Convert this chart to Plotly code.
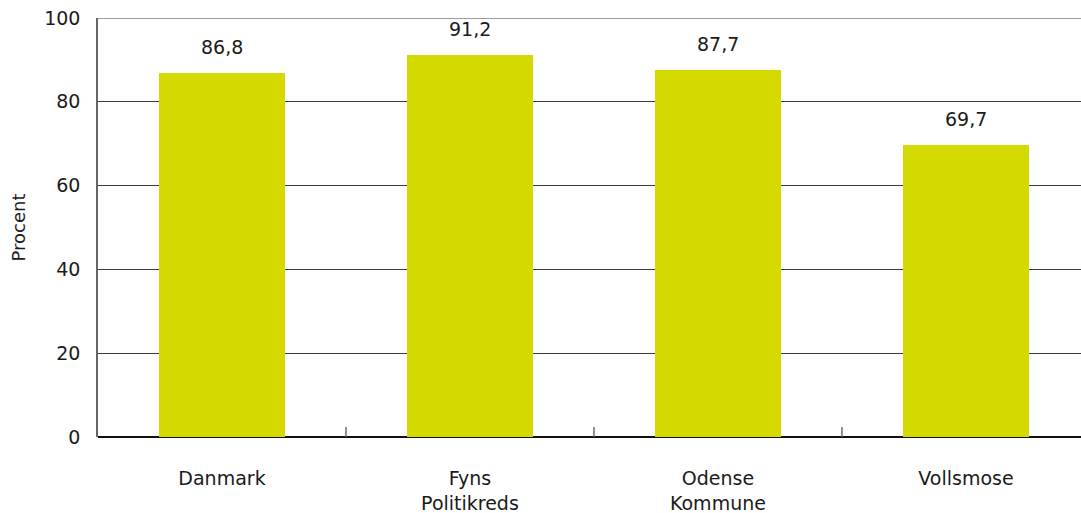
import plotly.graph_objects as go

categories = ["Danmark", "Fyns<br>Politikreds", "Odense<br>Kommune", "Vollsmose"]
values = [86.8, 91.2, 87.7, 69.7]
value_labels = ["86,8", "91,2", "87,7", "69,7"]
y_ticks = [0, 20, 40, 60, 80, 100]

FONT = "DejaVu Sans"
TXT = "#1a1a1a"
xs = list(range(len(categories)))

fig = go.Figure()
fig.add_trace(go.Bar(x=xs, y=values, width=0.505, marker=dict(color="#D4D900", line=dict(width=0)),
                     hoverinfo="skip"))

for xi, v, lab in zip(xs, values, value_labels):
    fig.add_annotation(x=xi, y=v, text=lab, showarrow=False, yanchor="bottom", yshift=13,
                       font=dict(family=FONT, size=19, color=TXT))

for b in [0.5, 1.5, 2.5]:
    fig.add_shape(type="line", x0=b, x1=b, y0=0, y1=2.4, xref="x", yref="y",
                  line=dict(color="#555555", width=1.3))

# top gridline (plotly omits the gridline at the range edge)
fig.add_shape(type="line", x0=0, x1=1, xref="paper", y0=y_ticks[-1], y1=y_ticks[-1], yref="y",
              line=dict(color="#3a3a3a", width=1.2), layer="below")

fig.update_layout(
    width=1081, height=513,
    margin=dict(l=98, r=0, t=18, b=76),
    plot_bgcolor="white", paper_bgcolor="white",
    showlegend=False,
    font=dict(family=FONT, color=TXT),
    bargap=0,
)
fig.update_xaxes(
    range=[-0.5, 3.464], tickvals=xs, ticktext=categories, ticks="",
    showgrid=False, zeroline=False, showline=False, automargin=False,
    tickfont=dict(family=FONT, size=19, color=TXT), ticklabelstandoff=28,
    ticklabeloverflow="allow",
)
fig.update_yaxes(
    range=[0, 100], tickvals=y_ticks, ticks="", automargin=False,
    showgrid=True, gridcolor="#3a3a3a", gridwidth=1.2,
    zeroline=True, zerolinecolor="#111111", zerolinewidth=1.8,
    showline=True, linecolor="#666666", linewidth=1.5,
    tickfont=dict(family=FONT, size=19, color=TXT), ticklabelstandoff=12,
    ticklabeloverflow="allow",
    title=dict(text="Procent", font=dict(family=FONT, size=18, color=TXT), standoff=14),
)

fig.write_html("out.html", config={"displayModeBar": False},
               post_script="document.body.style.margin='0';document.body.style.overflow='hidden';")
